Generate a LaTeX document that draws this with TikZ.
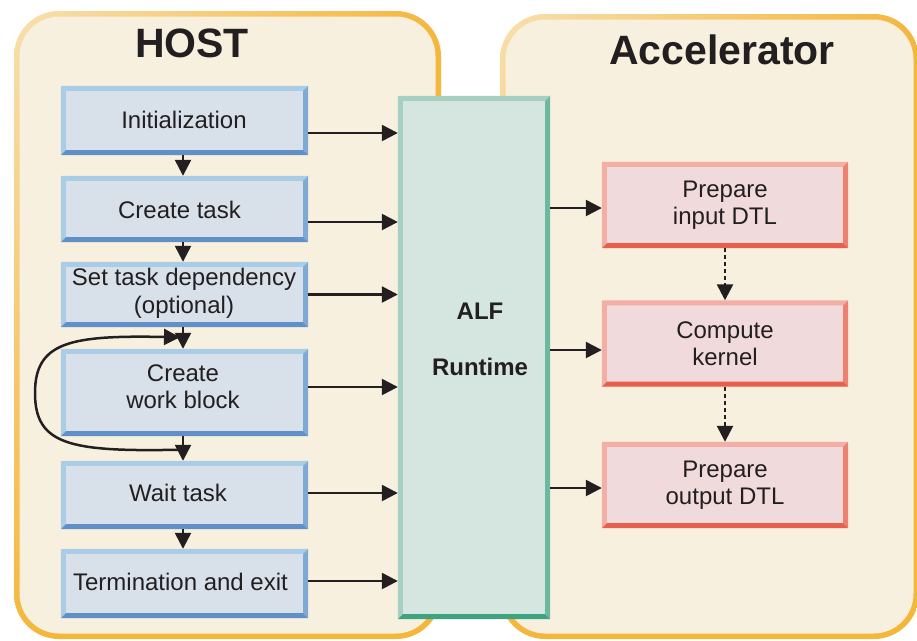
\documentclass[tikz,border=0pt]{standalone}
\usepackage{fontspec}
\setmainfont{Liberation Sans}
\usetikzlibrary{arrows.meta,calc,shadings}
\definecolor{cream}{HTML}{F8F0DF}
\definecolor{bordlight}{HTML}{F8DFAE}
\definecolor{borddark}{HTML}{F4B73C}
\definecolor{ink}{HTML}{231F20}
\definecolor{bluefill}{HTML}{D8E1E9}
\definecolor{bluelight}{HTML}{AACCE7}
\definecolor{bluemid}{HTML}{7EA9D4}
\definecolor{bluedark}{HTML}{6090C7}
\definecolor{redfill}{HTML}{F1DADB}
\definecolor{redlight}{HTML}{F3AEA6}
\definecolor{redmid}{HTML}{EE8070}
\definecolor{reddark}{HTML}{E8604C}
\definecolor{grnfill}{HTML}{D5E6E0}
\definecolor{grnlight}{HTML}{A6D0C3}
\definecolor{grnmid}{HTML}{6DB99F}
\definecolor{grndark}{HTML}{3DA47F}
\newcommand\bevbox[4]{%
  \fill[#2] (#1.north west) -- (#1.north east) -- ([xshift=-5pt,yshift=-5pt]#1.north east)
    -- ([xshift=5pt,yshift=-5pt]#1.north west) -- ([xshift=5pt,yshift=5pt]#1.south west)
    -- (#1.south west) -- cycle;
  \fill[#3] (#1.south east) -- (#1.north east)
    -- ([xshift=-5pt,yshift=-5pt]#1.north east) -- ([xshift=-5pt,yshift=5pt]#1.south east) -- cycle;
  \fill[#4] (#1.south west) -- (#1.south east) -- ([xshift=-5pt,yshift=5pt]#1.south east)
    -- ([xshift=5pt,yshift=5pt]#1.south west) -- cycle;}
\begin{document}
\begin{tikzpicture}[x=1pt,y=-1pt,
  txt/.style={text=ink,font=\fontsize{24}{27.5}\selectfont,align=center,inner sep=0pt},
  hostbox/.style={txt,fill=bluefill,minimum width=247pt},
  accbox/.style={txt,fill=redfill,minimum width=246pt,minimum height=86pt},
  arr/.style={draw=ink,line width=2.5pt,-{Triangle[length=16pt,width=16pt]}},
  darr/.style={arr,dash pattern=on 4pt off 3pt},
  frame/.style={upper left=bordlight,upper right=borddark,lower left=borddark,lower right=borddark,rounded corners=45pt}]
\useasboundingbox (0,0) rectangle (917,640);
% containers
\shade[frame] (14,11) rectangle (441,639);
\fill[cream,rounded corners=40pt] (19.5,16.5) rectangle (435.5,633.5);
\shade[frame] (500,14) rectangle (919,639);
\fill[cream,rounded corners=40pt] (505.5,19.5) rectangle (913.5,633.5);
\node[text=ink,font=\fontsize{41}{41}\selectfont\bfseries,inner sep=0pt] (host) at (192,43) {HOST};
\node[text=ink,font=\fontsize{41}{41}\selectfont\bfseries,inner sep=0pt] (acc) at (722,50) {Accelerator};
% host boxes
\node[hostbox,minimum height=69pt] (init) at (184.5,120.5) {};
\node[hostbox,minimum height=66pt] (ctask) at (184.5,209) {};
\node[hostbox,minimum height=65pt] (sdep) at (184.5,294.5) {};
\node[hostbox,minimum height=87pt] (wblk) at (184.5,392.5) {};
\node[hostbox,minimum height=68pt] (wait) at (184.5,495) {};
\node[hostbox,minimum height=69pt] (term) at (184.5,583.5) {};
\foreach \n in {init,ctask,sdep,wblk,wait,term}{\bevbox{\n}{bluelight}{bluemid}{bluedark}}
\node[txt] (initt) at (184,120) {Initialization};
\node[txt] (ctaskt) at (179.5,209.5) {Create task};
\node[txt] (sdept) at (184,293.5) {Set task dependency\\(optional)};
\node[txt] (wblkt) at (183,386.5) {Create\\work block};
\node[txt] (waitt) at (178,493) {Wait task};
\node[txt] (termt) at (180.5,581.5) {Termination and exit};
% ALF
\node[fill=grnfill,minimum width=152pt,minimum height=523pt,inner sep=0pt] (alf) at (474,357.5) {};
\bevbox{alf}{grnlight}{grnmid}{grndark}
\node[txt,font=\fontsize{24}{56}\selectfont\bfseries] (alftext) at (480,339) {ALF\\Runtime};
% accelerator boxes
\node[accbox] (pin) at (725,205) {Prepare\\input DTL};
\node[accbox] (comp) at (725,343.5) {Compute\\kernel};
\node[accbox] (pout) at (725,485) {Prepare\\output DTL};
\foreach \n in {pin,comp,pout}{\bevbox{\n}{redlight}{redmid}{reddark}}
% host flow
\draw[arr] ([xshift=-1.5pt]init.south) -- ([xshift=-1.5pt]ctask.north);
\draw[arr] ([xshift=-1.5pt]ctask.south) -- ([xshift=-1.5pt]sdep.north);
\draw[arr] ([xshift=-1.5pt]sdep.south) -- ([xshift=-1.5pt]wblk.north);
\draw[arr] ([xshift=-1.5pt]wblk.south) -- ([xshift=-1.5pt]wait.north);
\draw[arr] ([xshift=-1.5pt]wait.south) -- ([xshift=-1.5pt]term.north);
% loop
\coordinate (lb) at ($(wblk.south)+(-4,13.5)$);
\coordinate (lt) at ($(sdep.north)+(-4.5,75.5)$);
\draw[arr] (lb) .. controls (70,452) and (35,445) .. (35,393) .. controls (35,342) and (70,335) .. (lt);
% to ALF
\foreach \n/\d in {init/12.5,ctask/13,sdep/0,wblk/-5.5,wait/-2,term/-2.5}{
  \coordinate (s-\n) at ($(\n.east)+(0,\d)$);
  \draw[arr] (s-\n) -- (s-\n -| alf.west);}
% ALF to accelerator
\foreach \n/\d in {pin/3,comp/6.5,pout/3}{
  \coordinate (t-\n) at ($(\n.west)+(0,\d)$);
  \draw[arr] (t-\n -| alf.east) -- (t-\n);}
\draw[darr] (pin.south) -- (comp.north);
\draw[darr] (comp.south) -- (pout.north);
\end{tikzpicture}
\end{document}
